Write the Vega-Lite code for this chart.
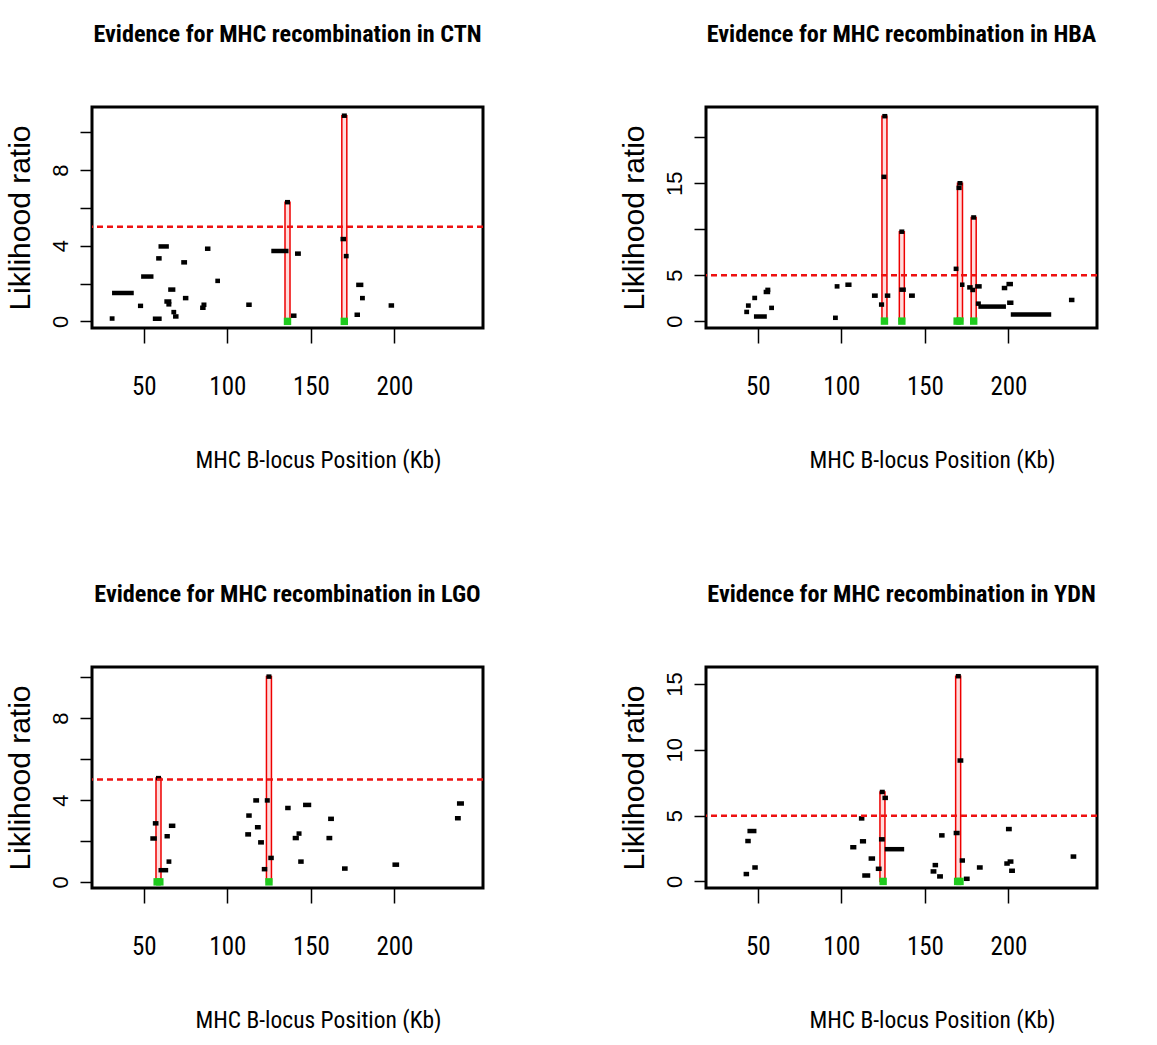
{
  "$schema": "https://vega.github.io/schema/vega-lite/v6.json",
  "background": "white",
  "padding": {"left": 3, "top": 21, "right": 0, "bottom": 0},
  "config": {
    "view": {"stroke": "black", "strokeWidth": 3},
    "axis": {"grid": false, "domain": false, "tickColor": "black", "tickWidth": 1.5, "labelColor": "black", "titleColor": "black", "titleFontWeight": "normal"},
    "axisX": {"tickSize": 15, "labelFont": "Roboto Condensed", "labelFontSize": 25, "labelPadding": 31, "titleFont": "Roboto Condensed", "titleFontSize": 23.5, "titlePadding": 49, "titleX": 226},
    "axisY": {"tickSize": 12, "labelFont": "Liberation Sans", "labelFontSize": 22, "labelAngle": 270, "labelAlign": "center", "labelBaseline": "bottom", "labelPadding": 8, "titleFont": "Liberation Sans", "titleFontSize": 30, "titlePadding": 14},
    "title": {"font": "Roboto Condensed", "fontSize": 24.2, "fontWeight": "bold", "color": "black", "baseline": "alphabetic", "offset": 60, "anchor": "middle", "frame": "group"}
  },
  "datasets": {
    "thr": [{"threshold": 5}],
    "ctn_seg": [
      {"x": 29.6, "xe": 32.5, "y": 0.15}, {"x": 31, "xe": 44, "y": 1.5}, {"x": 46.5, "xe": 49.6, "y": 0.82}, {"x": 48.4, "xe": 55.8, "y": 2.37},
      {"x": 55.4, "xe": 60.7, "y": 0.14}, {"x": 57.4, "xe": 60.7, "y": 3.33}, {"x": 58.8, "xe": 65, "y": 3.96}, {"x": 62.3, "xe": 66.5, "y": 1.05},
      {"x": 63.5, "xe": 66.5, "y": 0.9}, {"x": 64.6, "xe": 68.9, "y": 1.68}, {"x": 66.5, "xe": 69.4, "y": 0.49}, {"x": 67.5, "xe": 70.8, "y": 0.26},
      {"x": 72.4, "xe": 75.9, "y": 3.12}, {"x": 73.4, "xe": 76.7, "y": 1.23}, {"x": 83.7, "xe": 87, "y": 0.72}, {"x": 84.5, "xe": 87.5, "y": 0.88},
      {"x": 86.6, "xe": 89.9, "y": 3.84}, {"x": 92.8, "xe": 95.6, "y": 2.14}, {"x": 111.3, "xe": 114.6, "y": 0.88}, {"x": 126.3, "xe": 136.6, "y": 3.72},
      {"x": 134.5, "xe": 137.5, "y": 6.3}, {"x": 138.1, "xe": 141.4, "y": 0.3}, {"x": 140.5, "xe": 144, "y": 3.58}, {"x": 167.7, "xe": 171, "y": 4.35},
      {"x": 169.7, "xe": 172.6, "y": 3.45}, {"x": 168.5, "xe": 171.5, "y": 10.87}, {"x": 176.1, "xe": 179.4, "y": 0.35}, {"x": 177.1, "xe": 181.4, "y": 1.93},
      {"x": 179.4, "xe": 182.3, "y": 1.23}, {"x": 196.5, "xe": 199.8, "y": 0.84}
    ],
    "ctn_peak": [{"x": 136.0, "y": 6.3}, {"x": 170.0, "y": 10.87}],
    "ctn_site": [{"x": 136.0}, {"x": 170.0}],
    "hba_seg": [
      {"x": 41.9, "xe": 44.8, "y": 1.0}, {"x": 42.9, "xe": 45.8, "y": 1.69}, {"x": 46.7, "xe": 49.6, "y": 2.52}, {"x": 47.7, "xe": 55.4, "y": 0.5},
      {"x": 53.5, "xe": 57.4, "y": 3.17}, {"x": 54.5, "xe": 57.5, "y": 3.4}, {"x": 56.8, "xe": 59.7, "y": 1.44}, {"x": 95, "xe": 97.9, "y": 0.36},
      {"x": 96, "xe": 98.9, "y": 3.78}, {"x": 102.4, "xe": 106.1, "y": 3.96}, {"x": 118.3, "xe": 121.8, "y": 2.77}, {"x": 122.5, "xe": 125.6, "y": 1.8},
      {"x": 124, "xe": 127, "y": 15.7}, {"x": 124.5, "xe": 127.5, "y": 22.3}, {"x": 126, "xe": 129.3, "y": 2.77}, {"x": 134.7, "xe": 138.6, "y": 3.42},
      {"x": 134.7, "xe": 137.7, "y": 9.73}, {"x": 140.5, "xe": 144, "y": 2.77}, {"x": 167.2, "xe": 170.1, "y": 5.69}, {"x": 168.9, "xe": 172, "y": 14.5},
      {"x": 169.5, "xe": 172.5, "y": 15.0}, {"x": 171, "xe": 173.7, "y": 3.96}, {"x": 175.3, "xe": 178.6, "y": 3.67}, {"x": 177.2, "xe": 180.1, "y": 3.39},
      {"x": 177.7, "xe": 180.7, "y": 11.28}, {"x": 180.1, "xe": 184, "y": 3.78}, {"x": 180.5, "xe": 183.5, "y": 1.9}, {"x": 182, "xe": 198.5, "y": 1.58},
      {"x": 196, "xe": 199.3, "y": 3.6}, {"x": 198.8, "xe": 202.7, "y": 4.03}, {"x": 199.2, "xe": 203, "y": 2.0}, {"x": 201.4, "xe": 225.6, "y": 0.72},
      {"x": 236.2, "xe": 239.5, "y": 2.3}
    ],
    "hba_peak": [{"x": 125.8, "y": 22.3}, {"x": 136.2, "y": 9.73}, {"x": 171.0, "y": 15.0}, {"x": 179.2, "y": 11.28}],
    "hba_site": [{"x": 125.8}, {"x": 136.2}, {"x": 169.3}, {"x": 171.0}, {"x": 179.2}],
    "lgo_seg": [
      {"x": 53.9, "xe": 57.8, "y": 2.12}, {"x": 55.4, "xe": 58.8, "y": 2.86}, {"x": 57.3, "xe": 60.3, "y": 5.07}, {"x": 58.8, "xe": 64.6, "y": 0.57},
      {"x": 62.4, "xe": 65.6, "y": 2.23}, {"x": 63.6, "xe": 66.5, "y": 0.99}, {"x": 65, "xe": 68.9, "y": 2.74}, {"x": 110.7, "xe": 114.2, "y": 2.32},
      {"x": 111.3, "xe": 114.6, "y": 3.24}, {"x": 115.5, "xe": 119, "y": 3.98}, {"x": 116.5, "xe": 120, "y": 2.67}, {"x": 118.4, "xe": 121.9, "y": 1.93},
      {"x": 120.6, "xe": 123.9, "y": 0.62}, {"x": 122.4, "xe": 125.4, "y": 3.98}, {"x": 123.4, "xe": 126.4, "y": 10.03}, {"x": 124.5, "xe": 127.8, "y": 1.17},
      {"x": 134.6, "xe": 137.9, "y": 3.61}, {"x": 139.1, "xe": 142.8, "y": 2.14}, {"x": 141.4, "xe": 144.4, "y": 2.36}, {"x": 142.4, "xe": 145.7, "y": 0.99},
      {"x": 145.3, "xe": 150.2, "y": 3.76}, {"x": 159.3, "xe": 162.8, "y": 2.14}, {"x": 160.3, "xe": 163.8, "y": 3.08}, {"x": 168.6, "xe": 172, "y": 0.65},
      {"x": 198.8, "xe": 202.8, "y": 0.84}, {"x": 236.2, "xe": 239.7, "y": 3.11}, {"x": 237.4, "xe": 241.6, "y": 3.83}
    ],
    "lgo_peak": [{"x": 58.8, "y": 5.07}, {"x": 124.9, "y": 10.03}],
    "lgo_site": [{"x": 58.0}, {"x": 59.6}, {"x": 124.9}],
    "ydn_seg": [
      {"x": 41.5, "xe": 44.8, "y": 0.56}, {"x": 42.5, "xe": 45.8, "y": 3.07}, {"x": 43.8, "xe": 49.2, "y": 3.83}, {"x": 46.7, "xe": 50, "y": 1.06},
      {"x": 105.3, "xe": 109, "y": 2.6}, {"x": 110.5, "xe": 113.8, "y": 4.79}, {"x": 111.1, "xe": 114.8, "y": 3.05}, {"x": 112.5, "xe": 117.3, "y": 0.45},
      {"x": 116.3, "xe": 120.2, "y": 1.74}, {"x": 120.6, "xe": 124.1, "y": 0.96}, {"x": 122.5, "xe": 126, "y": 3.2}, {"x": 123, "xe": 126, "y": 6.8},
      {"x": 124.6, "xe": 127.9, "y": 6.35}, {"x": 126, "xe": 137.6, "y": 2.45}, {"x": 153.4, "xe": 156.9, "y": 0.76}, {"x": 154.6, "xe": 157.9, "y": 1.24},
      {"x": 157.3, "xe": 160.8, "y": 0.38}, {"x": 158.5, "xe": 161.8, "y": 3.5}, {"x": 167.2, "xe": 170.8, "y": 3.68}, {"x": 168.5, "xe": 171.5, "y": 15.6},
      {"x": 169.5, "xe": 173, "y": 9.19}, {"x": 170.8, "xe": 174, "y": 1.59}, {"x": 173.3, "xe": 176.8, "y": 0.2}, {"x": 181.1, "xe": 184.6, "y": 1.06},
      {"x": 197.5, "xe": 200.8, "y": 1.36}, {"x": 198.5, "xe": 202, "y": 3.98}, {"x": 199.5, "xe": 203, "y": 1.51}, {"x": 200.4, "xe": 203.9, "y": 0.81},
      {"x": 237.2, "xe": 240.6, "y": 1.89}
    ],
    "ydn_peak": [{"x": 124.6, "y": 6.8}, {"x": 169.9, "y": 15.6}],
    "ydn_site": [{"x": 125.0}, {"x": 169.6}, {"x": 171.0}]
  },
  "columns": 2,
  "spacing": {"row": 108, "column": 131},
  "concat": [
    {
      "width": 391, "height": 221,
      "title": "Evidence for MHC recombination in CTN",
      "layer": [
        {"data": {"name": "ctn_peak"}, "mark": {"type": "bar", "orient": "vertical", "width": 5, "fill": "#ffdcdc", "stroke": "#ee0000", "strokeWidth": 1.5},
         "encoding": {
           "x": {"field": "x", "type": "quantitative", "scale": {"domain": [22, 250], "nice": false}, "axis": {"values": [50, 100, 150, 200], "title": "MHC B-locus Position (Kb)"}},
           "y": {"field": "y", "type": "quantitative", "scale": {"domain": [-0.35, 11.33], "nice": false, "zero": false}, "axis": {"values": [0, 2, 4, 6, 8, 10], "labelExpr": "datum.value % 4 == 0 ? datum.label : ''", "title": "Liklihood ratio"}},
           "y2": {"datum": 0}}},
        {"data": {"name": "ctn_seg"}, "mark": {"type": "rule", "color": "black", "strokeWidth": 4.5},
         "encoding": {
           "x": {"field": "x", "type": "quantitative", "scale": {"domain": [22, 250], "nice": false}},
           "x2": {"field": "xe"},
           "y": {"field": "y", "type": "quantitative", "scale": {"domain": [-0.35, 11.33], "nice": false, "zero": false}}}},
        {"data": {"name": "ctn_site"}, "mark": {"type": "point", "shape": "square", "filled": true, "color": "#1ecb1e", "size": 55, "opacity": 1},
         "encoding": {
           "x": {"field": "x", "type": "quantitative", "scale": {"domain": [22, 250], "nice": false}},
           "y": {"datum": 0, "type": "quantitative", "scale": {"domain": [-0.35, 11.33], "nice": false, "zero": false}}}},
        {"data": {"name": "thr"}, "mark": {"type": "rule", "color": "#ee1111", "strokeDash": [6, 4], "strokeWidth": 2.5},
         "encoding": {
           "y": {"field": "threshold", "type": "quantitative", "scale": {"domain": [-0.35, 11.33], "nice": false, "zero": false}}}}
      ]
    },
    {
      "width": 391, "height": 221,
      "title": "Evidence for MHC recombination in HBA",
      "layer": [
        {"data": {"name": "hba_peak"}, "mark": {"type": "bar", "orient": "vertical", "width": 5, "fill": "#ffdcdc", "stroke": "#ee0000", "strokeWidth": 1.5},
         "encoding": {
           "x": {"field": "x", "type": "quantitative", "scale": {"domain": [22, 250], "nice": false}, "axis": {"values": [50, 100, 150, 200], "title": "MHC B-locus Position (Kb)"}},
           "y": {"field": "y", "type": "quantitative", "scale": {"domain": [-0.75, 23.3], "nice": false, "zero": false}, "axis": {"values": [0, 5, 10, 15, 20], "labelExpr": "datum.value == 10 || datum.value == 20 ? '' : datum.label", "title": "Liklihood ratio"}},
           "y2": {"datum": 0}}},
        {"data": {"name": "hba_seg"}, "mark": {"type": "rule", "color": "black", "strokeWidth": 4.5},
         "encoding": {
           "x": {"field": "x", "type": "quantitative", "scale": {"domain": [22, 250], "nice": false}},
           "x2": {"field": "xe"},
           "y": {"field": "y", "type": "quantitative", "scale": {"domain": [-0.75, 23.3], "nice": false, "zero": false}}}},
        {"data": {"name": "hba_site"}, "mark": {"type": "point", "shape": "square", "filled": true, "color": "#1ecb1e", "size": 55, "opacity": 1},
         "encoding": {
           "x": {"field": "x", "type": "quantitative", "scale": {"domain": [22, 250], "nice": false}},
           "y": {"datum": 0, "type": "quantitative", "scale": {"domain": [-0.75, 23.3], "nice": false, "zero": false}}}},
        {"data": {"name": "thr"}, "mark": {"type": "rule", "color": "#ee1111", "strokeDash": [6, 4], "strokeWidth": 2.5},
         "encoding": {
           "y": {"field": "threshold", "type": "quantitative", "scale": {"domain": [-0.75, 23.3], "nice": false, "zero": false}}}}
      ]
    },
    {
      "width": 391, "height": 221,
      "title": "Evidence for MHC recombination in LGO",
      "layer": [
        {"data": {"name": "lgo_peak"}, "mark": {"type": "bar", "orient": "vertical", "width": 5, "fill": "#ffdcdc", "stroke": "#ee0000", "strokeWidth": 1.5},
         "encoding": {
           "x": {"field": "x", "type": "quantitative", "scale": {"domain": [22, 250], "nice": false}, "axis": {"values": [50, 100, 150, 200], "title": "MHC B-locus Position (Kb)"}},
           "y": {"field": "y", "type": "quantitative", "scale": {"domain": [-0.3, 10.5], "nice": false, "zero": false}, "axis": {"values": [0, 2, 4, 6, 8, 10], "labelExpr": "datum.value % 4 == 0 ? datum.label : ''", "title": "Liklihood ratio"}},
           "y2": {"datum": 0}}},
        {"data": {"name": "lgo_seg"}, "mark": {"type": "rule", "color": "black", "strokeWidth": 4.5},
         "encoding": {
           "x": {"field": "x", "type": "quantitative", "scale": {"domain": [22, 250], "nice": false}},
           "x2": {"field": "xe"},
           "y": {"field": "y", "type": "quantitative", "scale": {"domain": [-0.3, 10.5], "nice": false, "zero": false}}}},
        {"data": {"name": "lgo_site"}, "mark": {"type": "point", "shape": "square", "filled": true, "color": "#1ecb1e", "size": 55, "opacity": 1},
         "encoding": {
           "x": {"field": "x", "type": "quantitative", "scale": {"domain": [22, 250], "nice": false}},
           "y": {"datum": 0, "type": "quantitative", "scale": {"domain": [-0.3, 10.5], "nice": false, "zero": false}}}},
        {"data": {"name": "thr"}, "mark": {"type": "rule", "color": "#ee1111", "strokeDash": [6, 4], "strokeWidth": 2.5},
         "encoding": {
           "y": {"field": "threshold", "type": "quantitative", "scale": {"domain": [-0.3, 10.5], "nice": false, "zero": false}}}}
      ]
    },
    {
      "width": 391, "height": 221,
      "title": "Evidence for MHC recombination in YDN",
      "layer": [
        {"data": {"name": "ydn_peak"}, "mark": {"type": "bar", "orient": "vertical", "width": 5, "fill": "#ffdcdc", "stroke": "#ee0000", "strokeWidth": 1.5},
         "encoding": {
           "x": {"field": "x", "type": "quantitative", "scale": {"domain": [22, 250], "nice": false}, "axis": {"values": [50, 100, 150, 200], "title": "MHC B-locus Position (Kb)"}},
           "y": {"field": "y", "type": "quantitative", "scale": {"domain": [-0.5, 16.3], "nice": false, "zero": false}, "axis": {"values": [0, 5, 10, 15], "title": "Liklihood ratio"}},
           "y2": {"datum": 0}}},
        {"data": {"name": "ydn_seg"}, "mark": {"type": "rule", "color": "black", "strokeWidth": 4.5},
         "encoding": {
           "x": {"field": "x", "type": "quantitative", "scale": {"domain": [22, 250], "nice": false}},
           "x2": {"field": "xe"},
           "y": {"field": "y", "type": "quantitative", "scale": {"domain": [-0.5, 16.3], "nice": false, "zero": false}}}},
        {"data": {"name": "ydn_site"}, "mark": {"type": "point", "shape": "square", "filled": true, "color": "#1ecb1e", "size": 55, "opacity": 1},
         "encoding": {
           "x": {"field": "x", "type": "quantitative", "scale": {"domain": [22, 250], "nice": false}},
           "y": {"datum": 0, "type": "quantitative", "scale": {"domain": [-0.5, 16.3], "nice": false, "zero": false}}}},
        {"data": {"name": "thr"}, "mark": {"type": "rule", "color": "#ee1111", "strokeDash": [6, 4], "strokeWidth": 2.5},
         "encoding": {
           "y": {"field": "threshold", "type": "quantitative", "scale": {"domain": [-0.5, 16.3], "nice": false, "zero": false}}}}
      ]
    }
  ]
}
